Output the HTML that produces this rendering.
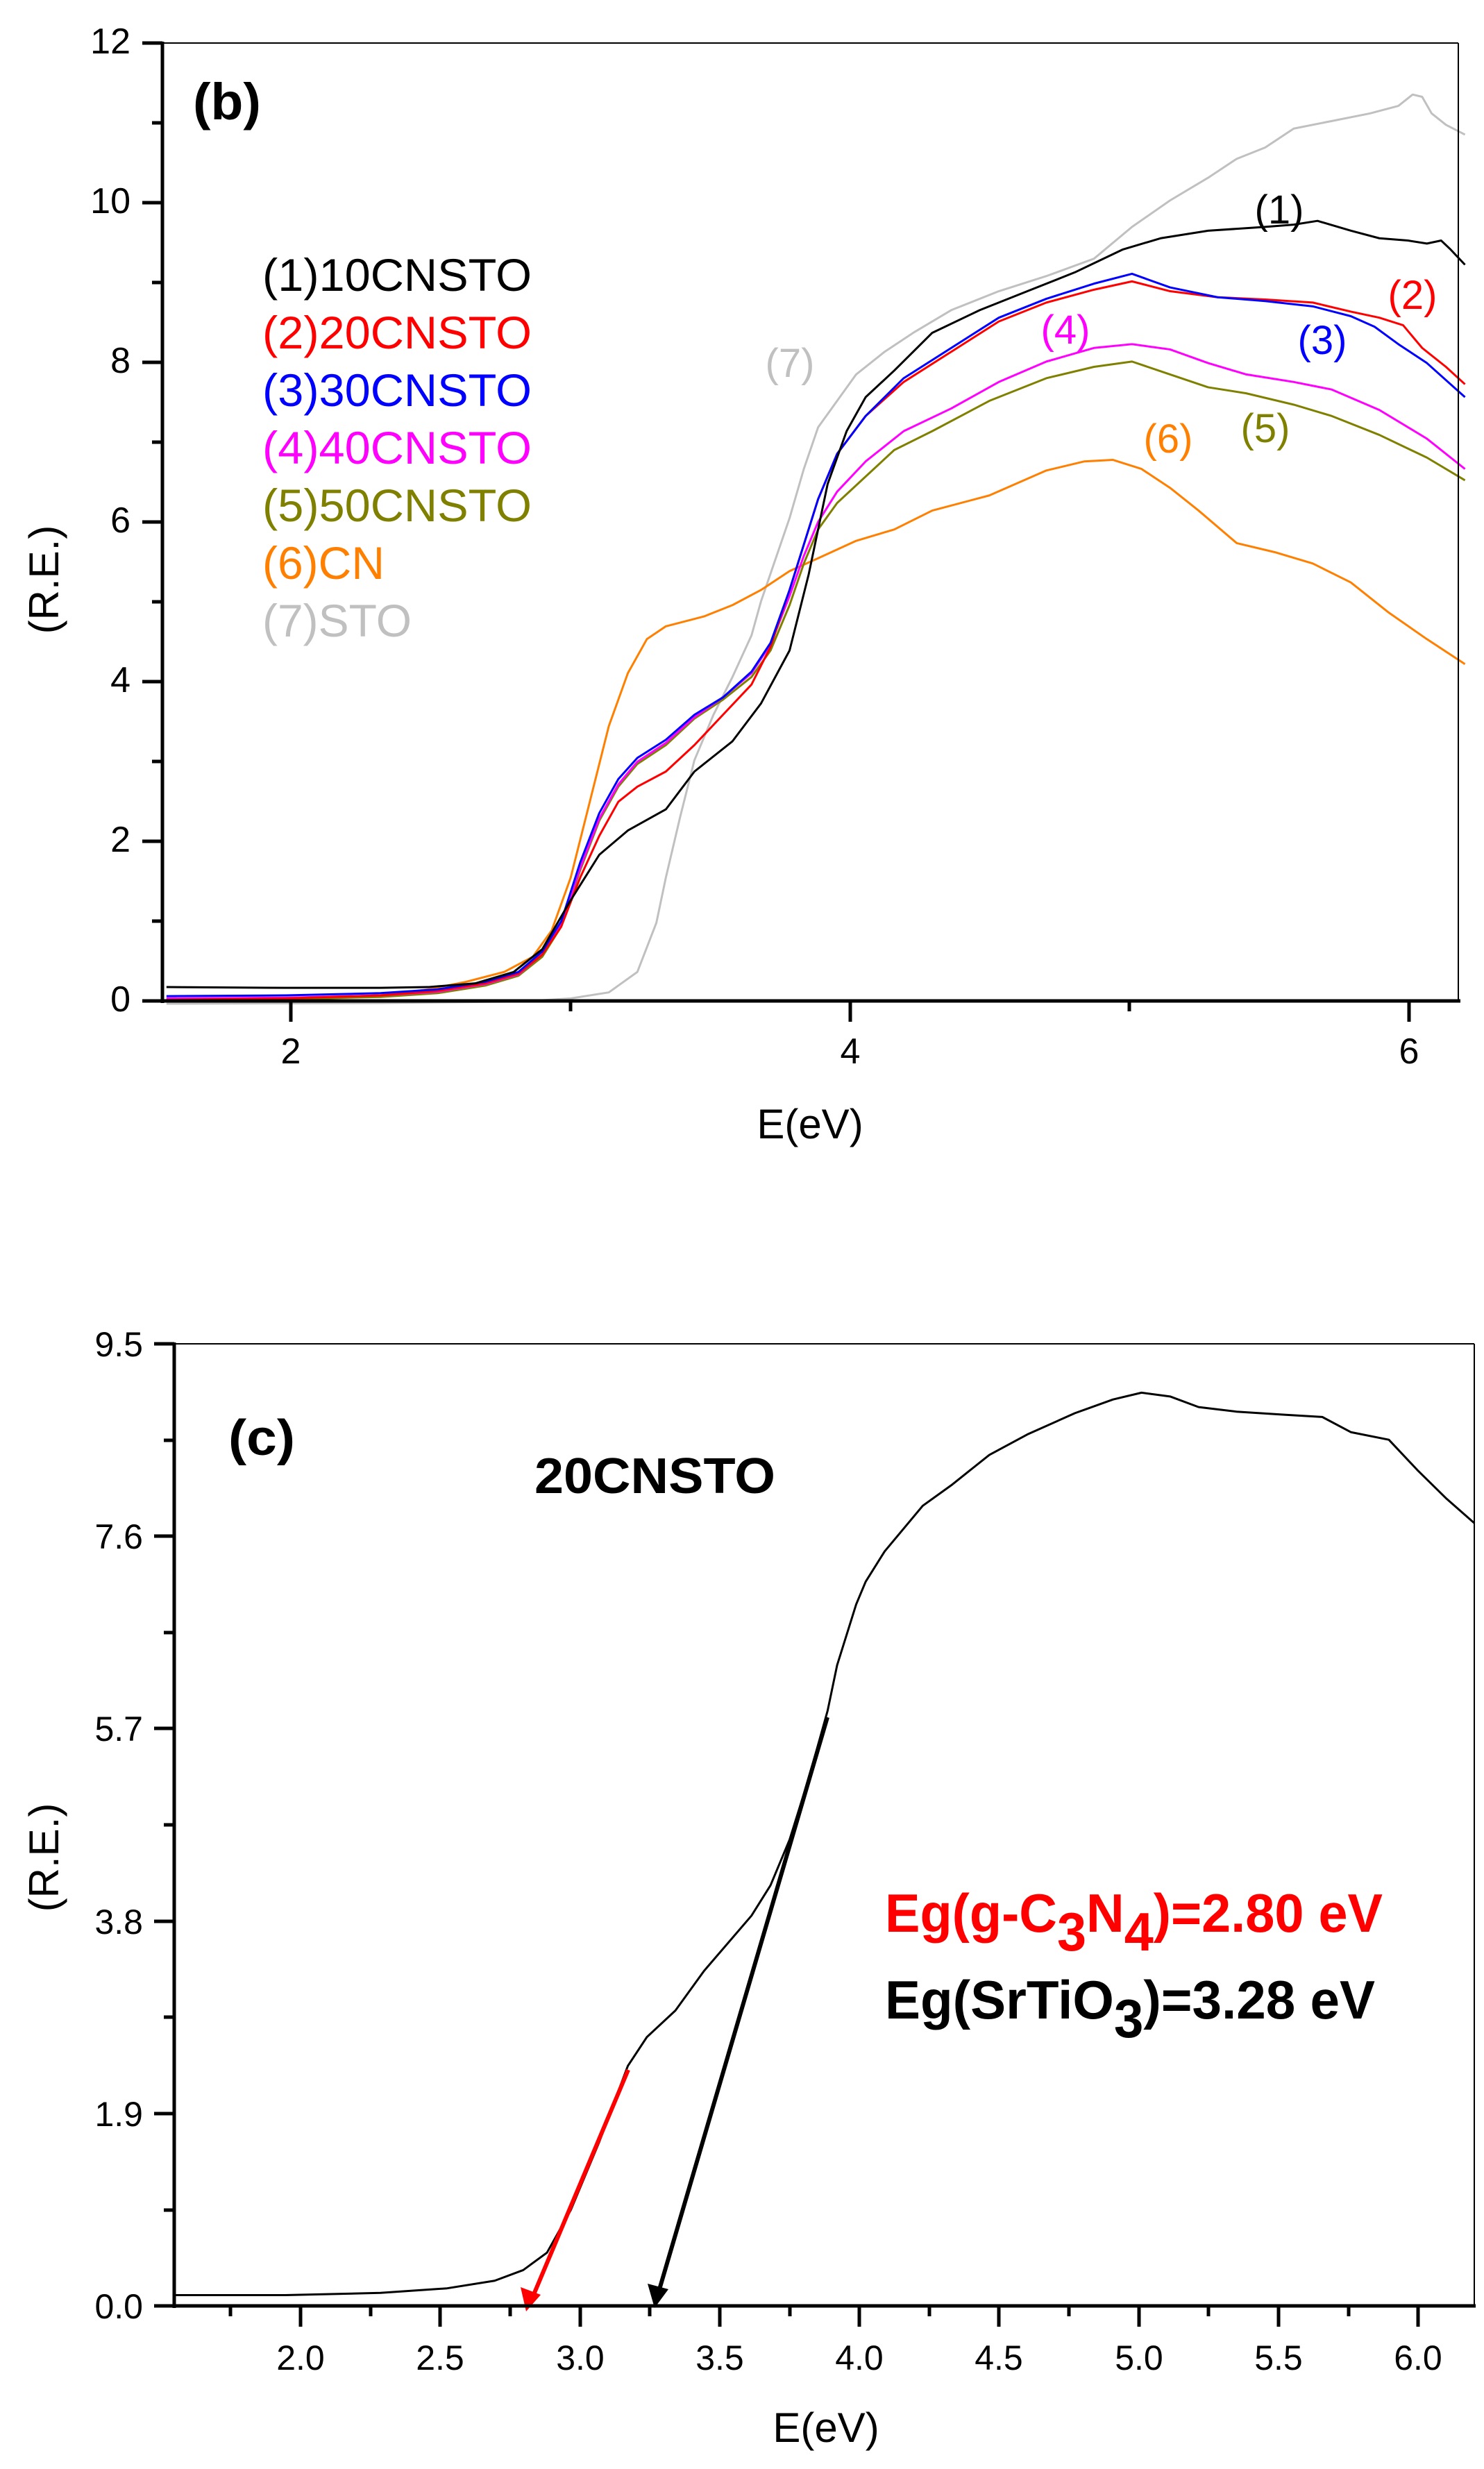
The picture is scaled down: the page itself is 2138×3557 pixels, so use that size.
<!DOCTYPE html>
<html><head><meta charset="utf-8"><style>
html,body{margin:0;padding:0;background:#fff;}
svg{display:block;}
text{font-family:"Liberation Sans",Arial,sans-serif;}
</style></head><body>
<svg width="2138" height="3557" viewBox="0 0 2138 3557" xmlns="http://www.w3.org/2000/svg">
<rect width="2138" height="3557" fill="#fff"/>

<!-- ============ TOP CHART (b) ============ -->
<g fill="none" stroke-linejoin="round" stroke-width="3">
<g transform="scale(1.3705,1.0897)">
<polyline vector-effect="non-scaling-stroke" stroke="#c0c0c0" points="175,1327 400,1326 550,1324 600,1320 640,1312 670,1285 690,1220 700,1160 715,1080 730,1005 750,945 770,895 790,840 800,795 815,740 830,685 845,620 860,565 880,530 900,495 930,465 960,440 1000,410 1050,385 1100,365 1150,342 1190,300 1230,265 1270,235 1300,210 1330,195 1360,170 1400,160 1440,150 1470,140 1485,125 1495,128 1505,150 1520,165 1540,178"/>
<polyline vector-effect="non-scaling-stroke" stroke="#ff8000" points="175,1321 300,1320 400,1316 450,1308 490,1298 530,1285 560,1265 580,1230 600,1160 620,1060 640,960 660,890 680,845 700,828 740,815 770,800 800,780 830,755 860,738 900,715 940,700 980,675 1040,655 1100,622 1140,610 1170,608 1200,620 1230,645 1260,675 1300,718 1340,730 1380,745 1420,770 1460,810 1500,845 1540,878"/>
<polyline vector-effect="non-scaling-stroke" stroke="#808000" points="175,1322 300,1321 400,1318 460,1313 510,1303 545,1290 570,1265 590,1225 610,1150 630,1085 650,1040 670,1010 700,985 730,950 760,925 790,895 810,860 830,800 845,745 860,700 880,665 910,630 940,595 980,570 1040,530 1100,500 1150,485 1190,478 1230,495 1270,512 1310,520 1360,535 1400,550 1450,575 1500,605 1540,635"/>
<polyline vector-effect="non-scaling-stroke" stroke="#ff00ff" points="175,1320 300,1319 400,1316 460,1311 510,1301 545,1288 570,1262 590,1222 610,1147 630,1082 650,1037 670,1007 700,982 730,948 760,922 790,890 810,852 830,788 845,735 860,690 880,650 910,610 950,570 1000,540 1050,505 1100,478 1150,460 1190,455 1230,462 1270,480 1310,495 1360,505 1400,515 1450,542 1500,580 1540,620"/>
<polyline vector-effect="non-scaling-stroke" stroke="#ff0000" points="175,1322 300,1320 400,1316 460,1310 510,1300 545,1287 570,1262 590,1225 610,1160 630,1105 650,1060 670,1040 700,1020 730,985 760,945 790,905 810,855 830,780 845,720 860,660 880,600 910,550 950,505 1000,465 1050,425 1100,400 1150,383 1190,372 1230,385 1280,393 1330,396 1380,400 1420,412 1450,420 1475,430 1495,460 1520,485 1540,508"/>
<polyline vector-effect="non-scaling-stroke" stroke="#0000ff" points="175,1317 300,1316 400,1313 460,1308 510,1298 545,1285 570,1258 590,1218 610,1140 630,1075 650,1030 670,1002 700,978 730,945 760,922 790,888 810,850 830,780 845,720 860,660 880,600 910,550 950,500 1000,460 1050,420 1100,395 1150,375 1190,362 1230,380 1280,393 1330,398 1380,405 1420,418 1445,432 1470,455 1500,480 1540,525"/>
<polyline vector-effect="non-scaling-stroke" stroke="#000000" points="175,1305 300,1306 400,1306 450,1305 500,1300 540,1285 570,1255 600,1190 630,1130 660,1098 700,1070 730,1020 770,980 800,930 830,860 850,760 870,640 890,570 910,525 940,490 980,440 1030,410 1080,385 1130,360 1180,330 1220,315 1270,305 1330,300 1360,297 1385,292 1420,305 1450,315 1480,318 1500,322 1515,318 1525,330 1540,350"/>
</g>
</g>
<!-- axes b -->
<g stroke="#000" fill="none">
<line x1="234" y1="62" x2="2101" y2="62" stroke-width="2"/>
<line x1="2101" y1="62" x2="2101" y2="1442" stroke-width="2"/>
<line x1="234" y1="60" x2="234" y2="1445" stroke-width="5"/>
<line x1="232" y1="1442" x2="2104" y2="1442" stroke-width="5"/>
<!-- y ticks major -->
<g stroke-width="5">
<line x1="205" y1="62" x2="234" y2="62"/><line x1="205" y1="292" x2="234" y2="292"/><line x1="205" y1="522" x2="234" y2="522"/><line x1="205" y1="752" x2="234" y2="752"/><line x1="205" y1="982" x2="234" y2="982"/><line x1="205" y1="1212" x2="234" y2="1212"/><line x1="205" y1="1442" x2="234" y2="1442"/>
<line x1="219" y1="177" x2="234" y2="177"/><line x1="219" y1="407" x2="234" y2="407"/><line x1="219" y1="637" x2="234" y2="637"/><line x1="219" y1="867" x2="234" y2="867"/><line x1="219" y1="1097" x2="234" y2="1097"/><line x1="219" y1="1327" x2="234" y2="1327"/>
<line x1="419" y1="1442" x2="419" y2="1472"/><line x1="1225" y1="1442" x2="1225" y2="1472"/><line x1="2030" y1="1442" x2="2030" y2="1472"/>
<line x1="822" y1="1442" x2="822" y2="1457"/><line x1="1627" y1="1442" x2="1627" y2="1457"/>
</g>
</g>
<g font-size="52" text-anchor="end" fill="#000">
<text x="188" y="77">12</text><text x="188" y="307">10</text><text x="188" y="537">8</text><text x="188" y="767">6</text><text x="188" y="997">4</text><text x="188" y="1227">2</text><text x="188" y="1457">0</text>
</g>
<g font-size="52" text-anchor="middle" fill="#000">
<text x="419" y="1532">2</text><text x="1225" y="1532">4</text><text x="2030" y="1532">6</text>
</g>
<text x="1167" y="1640" font-size="60" text-anchor="middle">E(eV)</text>
<text transform="translate(84,835) rotate(-90)" font-size="60" text-anchor="middle">(R.E.)</text>
<text x="278" y="172" font-size="74" font-weight="bold" textLength="98" lengthAdjust="spacingAndGlyphs">(b)</text>
<g font-size="66" textLength="388" lengthAdjust="spacingAndGlyphs">
<text x="378" y="419" fill="#000" textLength="388" lengthAdjust="spacingAndGlyphs">(1)10CNSTO</text>
<text x="378" y="502" fill="#ff0000" textLength="388" lengthAdjust="spacingAndGlyphs">(2)20CNSTO</text>
<text x="378" y="585" fill="#0000ff" textLength="388" lengthAdjust="spacingAndGlyphs">(3)30CNSTO</text>
<text x="378" y="668" fill="#ff00ff" textLength="388" lengthAdjust="spacingAndGlyphs">(4)40CNSTO</text>
<text x="378" y="751" fill="#808000" textLength="388" lengthAdjust="spacingAndGlyphs">(5)50CNSTO</text>
<text x="378" y="834" fill="#ff8000">(6)CN</text>
<text x="378" y="917" fill="#c0c0c0">(7)STO</text>
</g>
<g font-size="58" text-anchor="middle">
<text x="1843" y="322" fill="#000">(1)</text>
<text x="2035" y="445" fill="#ff0000">(2)</text>
<text x="1905" y="510" fill="#0000ff">(3)</text>
<text x="1535" y="495" fill="#ff00ff">(4)</text>
<text x="1823" y="637" fill="#808000">(5)</text>
<text x="1683" y="652" fill="#ff8000">(6)</text>
<text x="1138" y="543" fill="#c0c0c0">(7)</text>
</g>

<!-- ============ BOTTOM CHART (c) ============ -->
<g fill="none" stroke-width="3" stroke-linejoin="round">
<g transform="translate(0,1850) scale(1.3705,1.0935)">
<polyline vector-effect="non-scaling-stroke" stroke="#000" points="185,1332 300,1332 400,1329 470,1323 520,1313 550,1299 575,1276 600,1220 630,1130 660,1030 680,992 710,957 740,905 790,832 810,792 830,732 850,652 870,562 880,502 900,422 910,392 930,352 970,292 1000,265 1040,225 1080,198 1130,170 1170,152 1200,143 1230,148 1260,162 1300,168 1350,172 1390,175 1420,195 1460,205 1490,245 1520,282 1550,315"/>
</g>
</g>
<!-- arrows -->
<line x1="905" y1="2982" x2="765" y2="3315" stroke="#ff0000" stroke-width="6"/>
<polygon points="758,3330 750,3295 779,3306" fill="#ff0000"/>
<line x1="1192" y1="2474" x2="948" y2="3305" stroke="#000" stroke-width="6"/>
<polygon points="943,3325 933,3290 963,3298" fill="#000"/>
<!-- axes c -->
<g stroke="#000" fill="none">
<line x1="251" y1="1936" x2="2124" y2="1936" stroke-width="2"/>
<line x1="2124" y1="1936" x2="2124" y2="3322" stroke-width="2"/>
<line x1="251" y1="1934" x2="251" y2="3325" stroke-width="5"/>
<line x1="249" y1="3322" x2="2126" y2="3322" stroke-width="5"/>
<g stroke-width="5">
<line x1="222" y1="1936" x2="251" y2="1936"/><line x1="222" y1="2213" x2="251" y2="2213"/><line x1="222" y1="2490" x2="251" y2="2490"/><line x1="222" y1="2768" x2="251" y2="2768"/><line x1="222" y1="3045" x2="251" y2="3045"/><line x1="222" y1="3322" x2="251" y2="3322"/>
<line x1="236" y1="2075" x2="251" y2="2075"/><line x1="236" y1="2352" x2="251" y2="2352"/><line x1="236" y1="2629" x2="251" y2="2629"/><line x1="236" y1="2906" x2="251" y2="2906"/><line x1="236" y1="3184" x2="251" y2="3184"/>
<line x1="433" y1="3322" x2="433" y2="3352"/><line x1="634" y1="3322" x2="634" y2="3352"/><line x1="836" y1="3322" x2="836" y2="3352"/><line x1="1037" y1="3322" x2="1037" y2="3352"/><line x1="1238" y1="3322" x2="1238" y2="3352"/><line x1="1439" y1="3322" x2="1439" y2="3352"/><line x1="1641" y1="3322" x2="1641" y2="3352"/><line x1="1842" y1="3322" x2="1842" y2="3352"/><line x1="2043" y1="3322" x2="2043" y2="3352"/>
<line x1="332" y1="3322" x2="332" y2="3337"/><line x1="534" y1="3322" x2="534" y2="3337"/><line x1="735" y1="3322" x2="735" y2="3337"/><line x1="936" y1="3322" x2="936" y2="3337"/><line x1="1138" y1="3322" x2="1138" y2="3337"/><line x1="1339" y1="3322" x2="1339" y2="3337"/><line x1="1540" y1="3322" x2="1540" y2="3337"/><line x1="1741" y1="3322" x2="1741" y2="3337"/><line x1="1943" y1="3322" x2="1943" y2="3337"/>
</g>
</g>
<g font-size="50" text-anchor="end" fill="#000">
<text x="206" y="1954">9.5</text><text x="206" y="2231">7.6</text><text x="206" y="2508">5.7</text><text x="206" y="2786">3.8</text><text x="206" y="3063">1.9</text><text x="206" y="3340">0.0</text>
</g>
<g font-size="50" text-anchor="middle" fill="#000">
<text x="433" y="3414">2.0</text><text x="634" y="3414">2.5</text><text x="836" y="3414">3.0</text><text x="1037" y="3414">3.5</text><text x="1238" y="3414">4.0</text><text x="1439" y="3414">4.5</text><text x="1641" y="3414">5.0</text><text x="1842" y="3414">5.5</text><text x="2043" y="3414">6.0</text>
</g>
<text x="1190" y="3518" font-size="60" text-anchor="middle">E(eV)</text>
<text transform="translate(84,2676) rotate(-90)" font-size="60" text-anchor="middle">(R.E.)</text>
<text x="329" y="2096" font-size="72" font-weight="bold" textLength="96" lengthAdjust="spacingAndGlyphs">(c)</text>
<text x="770" y="2151" font-size="72" font-weight="bold" textLength="347" lengthAdjust="spacingAndGlyphs">20CNSTO</text>
<text x="1275" y="2783" font-size="78" font-weight="bold" fill="#ff0000" textLength="717" lengthAdjust="spacingAndGlyphs">Eg(g-C<tspan dy="27">3</tspan><tspan dy="-27">N</tspan><tspan dy="27">4</tspan><tspan dy="-27">)=2.80 eV</tspan></text>
<text x="1275" y="2908" font-size="78" font-weight="bold" fill="#000" textLength="706" lengthAdjust="spacingAndGlyphs">Eg(SrTiO<tspan dy="27">3</tspan><tspan dy="-27">)=3.28 eV</tspan></text>
</svg>
</body></html>
